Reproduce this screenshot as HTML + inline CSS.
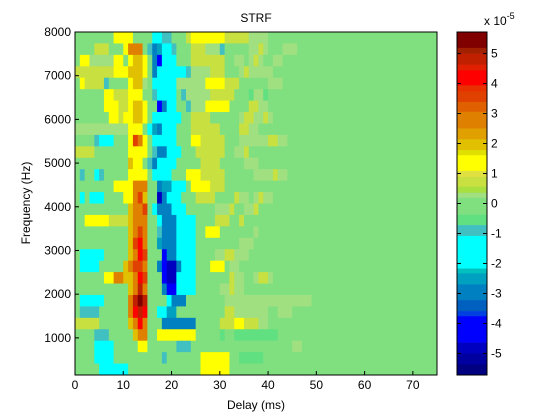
<!DOCTYPE html>
<html><head><meta charset="utf-8"><style>
body{margin:0;background:#fff;}
svg{display:block;font-family:"Liberation Sans",Arial,sans-serif;}
</style></head><body>
<svg id="chart" width="560" height="420" viewBox="0 0 560 420">
<rect width="560" height="420" fill="#fff"/>
<g id="cells"></g>
<g id="cbar"></g>
<g id="axes"></g>
<text x="256" y="22" font-size="12" text-anchor="middle">STRF</text>
<text x="256" y="409" font-size="12" text-anchor="middle">Delay (ms)</text>
<text transform="translate(30,203) rotate(-90)" font-size="12" text-anchor="middle">Frequency (Hz)</text>
<text x="484" y="25" font-size="12">x 10<tspan dy="-6" font-size="9">-5</tspan></text>
</svg>
<script>
// heatmap data: rows top (8000 Hz) to bottom, columns 1 ms each from 0 ms
const codes = {'.':0, ',':0.3, 'g':0.7, 'y':1.3, 'Y':2.0, 'o':2.8, 'O':3.5, 'r':4.2, 'R':4.8, 'D':5.4, '-':-0.5, 't':-0.9, 'c':-1.6, 'k':-2.5, 'b':-3.0, 'B':-4.0, 'N':-5.0};
const gridRows = [
"........yyyy....cctt...gyyyyyyyggggg,,,,.........",
"....ggg...yooo.tbkcct...ggg,,,t.....,,g,...,,,...",
".yy,,,,,yy.yYYy.bBccc...ggggggg..,,.,g,..,,......",
"ggggggggyyyYYYy.bcccccct,,,,ggg...,g,,,,,........",
".yggggt....yYY,.ccccc,,,,,,yyyyggg......,,,......",
"......yygggyyy..tcccc.t,,,,,ggggg...-,,-.........",
"......yyyggyYYy..Bbcc..t,,,yyyyy....gg,,.........",
".......yygyyYYy.cccccc..gggg......,gg,,g,........",
",,,,,,,,,,,yyy.ckbccc...gggggg....gg,,...........",
"....tccc...yOoy.ccccc...yyggggg...,,,,,,gg,,.....",
"gggg.......yyyy.tbbccc...gggggg..,,g.............",
"...........Yyy.tbcccc.....gggg.....,,,...........",
".t..ct.....yyyy.cccc...yyyggggg......,,,,g,,.....",
"........yyyyooo..bkkccc.yyyyggg..................",
".c.ccc....yyoOY..Nbccc...gggg....g,,.,g,,........",
"...........YooO.cbbbccc......,,,g..,,g...........",
"..yyyyyggggYooo..cbbbcccc....ggg..g..............",
"...........YoOo..tbbbcccc..yyy.......,...........",
"...........YOro..kbbbcccc.........,,,............",
".ccccc.....YorO...Bbbcccc....,,gg,,,.............",
".cccc.....YoOOo..bBNNbccc...yyy.,,...............",
"......yyooYYorO...BNNcccc.......g,,..,gg,........",
"...........YoRo...bBBcccc.....,,g,,..............",
".ccccc.....oRDR....cbbb........,,,,,,,,,,,,,,,,,,",
".tttt......orRr..cckk..........gg,,,,,,,..,,,....",
"ggggg......Yoro...bbbbbbb.....gggyyggg,,.........",
"....ttt.....Yoo..yyyyyyyy.....-..---------.......",
"....cccc.....yy......ttt.....................,,..",
"....cccc..........t.......yyyyyy..-----..........",
".....cccccc...............yyyyyy.................."
];
const xTicks = [0,10,20,30,40,50,60,70];
const yTicks = [1000,2000,3000,4000,5000,6000,7000,8000];
const cbTicks = [-5,-4,-3,-2,-1,0,1,2,3,4,5];
const nCols = 75, fMin = 150, fMax = 8000, vMin = -5.72, vMax = 5.72;

const X0=75, X1=437, Y0=32, Y1=375;
const xs = ms => X0 + (ms/75)*(X1-X0);
const ys = f => Y0 + (fMax-f)/(fMax-fMin)*(Y1-Y0);
const bins = [[5.19,'#800000'],[5.0,'#a02000'],[4.63,'#c02000'],[4.44,'#e02000'],[3.94,'#ff0000'],[3.74,'#e83000'],[3.39,'#e04000'],[3.06,'#e06000'],[2.5,'#e08000'],[2.14,'#e0a000'],[1.78,'#e0c000'],[1.61,'#e0e000'],[1.09,'#ffff00'],[0.89,'#e0e040'],[0.56,'#c8e040'],[0.36,'#a8e040'],[0.19,'#a0e080'],[-0.37,'#80e080'],[-0.72,'#60e080'],[-1.08,'#40c0c0'],[-2.17,'#00ffff'],[-2.33,'#00c0c0'],[-2.7,'#00a0c0'],[-3.22,'#0080c0'],[-3.59,'#0060c0'],[-3.76,'#0040e0'],[-4.64,'#0000ff'],[-5.0,'#0000c0'],[-5.37,'#0000a0'],[-99,'#000080']];
const color = v => { for (const b of bins) if (v >= b[0]) return b[1]; return '#000080'; };
const NS='http://www.w3.org/2000/svg';
function mk(tag, attrs, parent){ const e=document.createElementNS(NS,tag); for(const k in attrs) e.setAttribute(k,attrs[k]); parent.appendChild(e); return e; }

const cells = document.getElementById('cells');
const nRows = gridRows.length, fStep = (fMax-fMin)/nRows;
gridRows.forEach((row, r) => {
  const fTop = fMax - r*fStep, fBot = fTop - fStep;
  for (let c=0;c<nCols;c++){
    const ch = row[c] || '.';
    const v = codes[ch] ?? 0;
    const el = mk('rect',{x:xs(c),y:ys(fTop),width:xs(c+1)-xs(c)+0.4,height:ys(fBot)-ys(fTop)+0.4,fill:color(v)},cells);
    
    
  }
});

const axes = document.getElementById('axes');
const frame = mk('rect',{x:X0,y:Y0,width:X1-X0,height:Y1-Y0,fill:'none',stroke:'#000','stroke-width':1},axes);


xTicks.forEach(t => {
  const x = xs(t);
  mk('line',{x1:x,x2:x,y1:Y1,y2:Y1-4,stroke:'#000'},axes);
  const tx = mk('text',{x:x,y:Y1+14,'font-size':12,'text-anchor':'middle'},axes);
  tx.textContent = t;
  
  
});
yTicks.forEach(t => {
  const y = ys(t);
  mk('line',{x1:X0,x2:X0+4,y1:y,y2:y,stroke:'#000'},axes);
  const tx = mk('text',{x:X0-4,y:y+4,'font-size':12,'text-anchor':'end'},axes);
  tx.textContent = t;
  
  
});

const cb = document.getElementById('cbar');
const CX0=457, CX1=487;
const cy = v => Y0 + (vMax-v)/(vMax-vMin)*(Y1-Y0);
let prev = vMax;
bins.forEach(b => {
  const lo = Math.max(b[0], vMin);
  const el = mk('rect',{x:CX0,y:cy(prev),width:CX1-CX0,height:cy(lo)-cy(prev)+0.3,fill:b[1]},cb);
  
  
  prev = lo;
});
mk('rect',{x:CX0,y:Y0,width:CX1-CX0,height:Y1-Y0,fill:'none',stroke:'#000'},cb);
cbTicks.forEach(t => {
  const y = cy(t);
  mk('line',{x1:CX1,x2:CX1-4,y1:y,y2:y,stroke:'#000'},cb);
  mk('line',{x1:CX0,x2:CX0+4,y1:y,y2:y,stroke:'#000'},cb);
  const tx = mk('text',{x:CX1+4,y:y+4,'font-size':12},cb);
  tx.textContent = t;
  
  
});
</script>
</body></html>
